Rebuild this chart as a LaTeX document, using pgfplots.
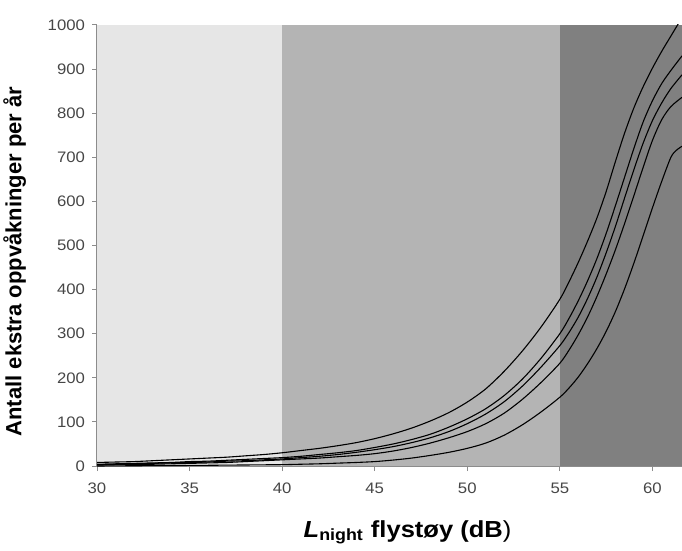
\documentclass[border=0pt]{standalone}
\usepackage{fontspec}
\setmainfont{Liberation Sans}
\newfontfamily\wide{Liberation Sans}[FakeStretch=1.1]
\usepackage{pgfplots}
\pgfplotsset{compat=1.18}

\definecolor{zoneA}{RGB}{230,230,230}
\definecolor{zoneB}{RGB}{180,180,180}
\definecolor{zoneC}{RGB}{128,128,128}
\definecolor{axgray}{RGB}{140,140,140}
\definecolor{tickgray}{RGB}{70,70,70}

\begin{document}
\begin{tikzpicture}
\begin{axis}[
  scale only axis,
  width=292.5pt, height=220.5pt,
  xmin=30, xmax=61.6, ymin=0, ymax=1000,
  xtick={30,35,...,60}, ytick={0,100,...,1000},
  axis x line*=bottom, axis y line*=left,
  axis line style={draw=axgray, line width=0.6pt, -},
  xtick pos=bottom, ytick pos=left,
  tick align=outside, major tick length=2.5pt,
  tick style={draw=axgray, line width=0.5pt},
  ticklabel style={font=\wide\fontsize{7.6}{9}\selectfont, text=tickgray},
  xticklabel style={yshift=-2.5pt},
  /pgf/number format/assume math mode=true,
  /pgf/number format/set thousands separator={},
  xlabel={\wide\bfseries\fontsize{11.6}{13}\selectfont\textit{L}\textsubscript{night} flystøy (dB\textmd{)}},
  xlabel style={yshift=-6.5pt, xshift=9pt},
  ylabel={\bfseries\fontsize{11}{13}\selectfont Antall ekstra oppvåkninger per år},
  ylabel style={yshift=4pt, xshift=-8pt},
  clip=true,
]
% background zones
\addplot[fill=zoneA, draw=none] coordinates {(30,1000) (40,1000)} \closedcycle;
\addplot[fill=zoneB, draw=none] coordinates {(40,1000) (55,1000)} \closedcycle;
\addplot[fill=zoneC, draw=none] coordinates {(55,1000) (61.6,1000)} \closedcycle;

% curve 1 (top)
\addplot[black, line width=0.55pt, smooth] coordinates {
 (30,8) (31,9) (32,10) (33,12) (34,14) (35,16) (36,18) (37,20) (38,23) (39,26)
 (40,30) (41,35) (42,40) (43,46) (44,53) (45,62) (46,73) (47,86) (48,102) (49,121)
 (50,145) (51,175) (52,215) (53,262) (54,316) (55,378)
 (55.5,418) (56,462) (56.5,510) (57,562) (57.5,622) (58,690) (58.5,755)
 (59,812) (59.5,860) (60,902) (60.5,940) (61,975) (61.4,1003)
};
% curve 2
\addplot[black, line width=0.55pt, smooth] coordinates {
 (30,4) (31,5) (32,6) (33,7) (34,8) (35,10) (36,11) (37,13) (38,15) (39,17)
 (40,19) (41,22) (42,26) (43,30) (44,35) (45,42) (46,50) (47,60) (48,72) (49,88)
 (50,107) (51,130) (52,160) (53,198) (54,245) (55,300)
 (55.5,335) (56,375) (56.5,420) (57,470) (57.5,527) (58,590) (58.5,655)
 (59,720) (59.5,780) (60,828) (60.5,867) (61,897) (61.6,930)
};
% curve 3
\addplot[black, line width=0.55pt, smooth] coordinates {
 (30,3) (31,4) (32,5) (33,6) (34,7) (35,8) (36,9) (37,11) (38,12) (39,14)
 (40,16) (41,19) (42,22) (43,26) (44,31) (45,37) (46,44) (47,53) (48,64) (49,78)
 (50,96) (51,118) (52,146) (53,182) (54,225) (55,273)
 (55.5,303) (56,338) (56.5,380) (57,428) (57.5,483) (58,543) (58.5,608)
 (59,672) (59.5,732) (60,783) (60.5,823) (61,856) (61.6,887)
};
% curve 4
\addplot[black, line width=0.55pt, smooth] coordinates {
 (30,2) (31,3) (32,3) (33,4) (34,5) (35,6) (36,7) (37,8) (38,10) (39,12)
 (40,14) (41,16) (42,18) (43,21) (44,24) (45,28) (46,34) (47,42) (48,52) (49,64)
 (50,78) (51,96) (52,120) (53,152) (54,190) (55,233)
 (55.5,263) (56,298) (56.5,338) (57,384) (57.5,435) (58,490) (58.5,550)
 (59,613) (59.5,677) (60,738) (60.5,785) (61,815) (61.6,836)
};
% curve 5 (bottom)
\addplot[black, line width=0.55pt, smooth] coordinates {
 (30,0) (31,0.3) (32,0.6) (33,0.8) (34,1) (35,1.3) (36,1.6) (37,2) (38,2.3) (39,2.7)
 (40,3) (41,4) (42,5) (43,6.5) (44,8) (45,10) (46,13.5) (47,18) (48,24) (49,31)
 (50,40) (51,52) (52,70) (53,94) (54,123) (55,156)
 (55.5,177) (56,202) (56.5,232) (57,266) (57.5,305) (58,350) (58.5,402)
 (59,460) (59.5,522) (60,585) (60.5,645) (61,700) (61.3,716) (61.6,725)
};
\end{axis}
\pgfresetboundingbox
\path[use as bounding box] ([xshift=-48.5pt,yshift=-42pt]current axis.south west) rectangle ([yshift=12.5pt]current axis.north east);
\end{tikzpicture}
\end{document}
